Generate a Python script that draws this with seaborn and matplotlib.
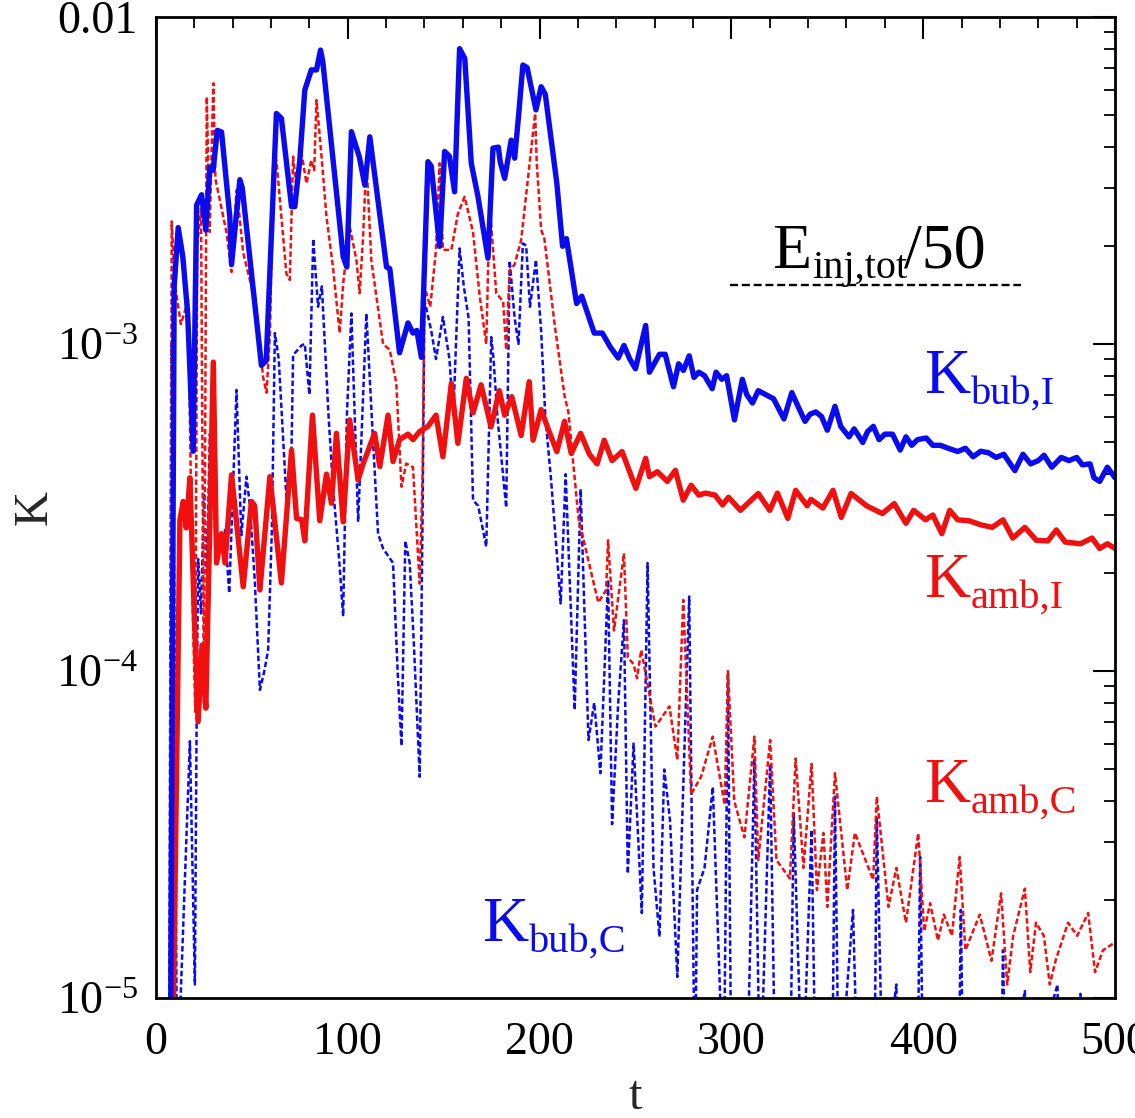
import numpy as np
import pandas as pd
import seaborn as sns
import matplotlib
matplotlib.use("Agg")
import matplotlib.pyplot as plt
from matplotlib.ticker import FixedLocator, FixedFormatter, MultipleLocator, LogLocator, NullFormatter

# ---------------- data ----------------
# K_bub,I : bubble kinetic energy, incompressible part (blue, solid)
t_bub_I = [7.5, 9.5, 11.6, 14.0, 16.5, 19.4, 21.2, 23.8, 26.0, 28.1, 29.8, 32.0, 34.2, 38.5, 39.4,
           43.75, 45.0, 55.0, 57.5, 62.8, 65.4, 70.7, 72.4, 75.0, 77.6, 81.0, 83.7, 85.8, 87.0,
           97.6, 99.5, 101.9, 106.0, 108.9, 111.5, 120.2, 121.9, 127.0, 131.4, 134.0, 136.0, 138.4,
           141.8, 143.5, 147.9, 150.5, 153.0, 155.7, 158.3, 161.0, 164.4, 167.9, 173.1, 175.7, 178.5,
           179.5, 181.8, 185.2, 187.0, 189.0, 191.3, 193.5, 198.1, 200.8, 203.0, 209.0, 212.0, 214.0,
           219.3, 222.0, 228.5, 232.7, 236.8, 241.0, 244.0, 247.0, 250.0, 255.3, 257.3, 262.5, 265.5,
           269.8, 272.5, 275.0, 278.0, 280.5, 283.0, 286.0, 290.0, 292.0, 295.0, 297.5, 301.6, 305.7,
           308.0, 311.0, 314.0, 318.0, 322.0, 327.4, 331.5, 335.0, 338.4, 341.0, 344.0, 347.0, 350.0,
           354.0, 357.0, 361.3, 364.0, 368.5, 371.0, 374.0, 377.0, 380.0, 384.0, 388.0, 391.0, 394.0,
           397.0, 401.6, 405.0, 409.0, 413.0, 418.0, 422.0, 426.0, 430.0, 434.0, 438.0, 442.0, 447.8,
           452.0, 456.0, 460.0, 463.0, 467.0, 472.0, 476.0, 480.0, 483.0, 487.0, 489.0, 492.0, 496.0,
           500.0]
k_bub_I = [5e-6, 1.5e-3, 2.27e-3, 1.85e-3, 1.25e-3, 4.7e-4, 2.66e-3, 2.86e-3, 2.23e-3, 3.47e-3, 3.4e-3,
           4.5e-3, 4.45e-3, 2.45e-3, 1.75e-3, 3.18e-3, 3.0e-3, 8.6e-4, 8.9e-4, 5.07e-3, 4.9e-3, 2.63e-3,
           2.63e-3, 3.65e-3, 5.98e-3, 6.89e-3, 6.89e-3, 7.92e-3, 7.3e-3, 1.85e-3, 1.72e-3, 4.46e-3,
           3.74e-3, 3.06e-3, 4.3e-3, 1.72e-3, 1.7e-3, 9.4e-4, 1.16e-3, 1.08e-3, 1.1e-3, 9.1e-4, 3.61e-3,
           3.5e-3, 1.99e-3, 3.88e-3, 3.75e-3, 2.92e-3, 8.0e-3, 7.47e-3, 3.57e-3, 2.82e-3, 1.83e-3,
           3.97e-3, 4.0e-3, 3.6e-3, 3.21e-3, 4.2e-3, 3.7e-3, 4.95e-3, 7.13e-3, 7.0e-3, 5.2e-3, 6.12e-3,
           5.8e-3, 3.1e-3, 1.99e-3, 2.1e-3, 1.33e-3, 1.4e-3, 1.08e-3, 1.08e-3, 9.8e-4, 9.06e-4, 9.9e-4,
           9.0e-4, 8.4e-4, 1.14e-3, 8.2e-4, 9.3e-4, 9.3e-4, 7.4e-4, 8.7e-4, 8.3e-4, 9.2e-4, 7.9e-4,
           8.2e-4, 8.0e-4, 7.3e-4, 8.2e-4, 7.8e-4, 8.0e-4, 5.86e-4, 7.8e-4, 7.0e-4, 6.6e-4, 7.2e-4,
           7.0e-4, 6.8e-4, 5.9e-4, 7.1e-4, 6.4e-4, 5.8e-4, 6.1e-4, 6.2e-4, 6.0e-4, 5.45e-4, 6.45e-4,
           5.6e-4, 5.2e-4, 5.5e-4, 5.0e-4, 5.4e-4, 5.6e-4, 5.1e-4, 5.3e-4, 5.3e-4, 4.74e-4, 5.2e-4,
           4.9e-4, 5.1e-4, 5.16e-4, 4.9e-4, 4.9e-4, 4.8e-4, 4.69e-4, 4.8e-4, 4.52e-4, 4.7e-4, 4.65e-4,
           4.5e-4, 4.6e-4, 4.1e-4, 4.6e-4, 4.3e-4, 4.4e-4, 4.57e-4, 4.2e-4, 4.5e-4, 4.4e-4, 4.5e-4,
           4.27e-4, 4.3e-4, 3.9e-4, 3.8e-4, 4.2e-4, 3.9e-4]

# K_amb,I : ambient kinetic energy, incompressible part (red, solid)
t_amb_I = [8.5, 12.5, 14.2, 15.8, 17.7, 20.0, 22.0, 24.0, 26.0, 29.9, 31.6, 34.2, 36.0, 39.4, 45.5,
           49.8, 51.5, 54.2, 59.4, 65.4, 70.7, 73.3, 76.0, 77.6, 81.6, 85.4, 88.9, 91.5, 94.1, 97.6,
           101.0, 105.4, 108.0, 114.0, 116.7, 121.0, 123.6, 127.0, 131.4, 134.0, 137.5, 141.8, 146.0,
           149.6, 154.0, 157.4, 161.8, 165.3, 169.5, 174.7, 179.0, 181.8, 185.5, 190.4, 194.6, 196.6,
           200.8, 204.7, 209.0, 213.0, 216.5, 221.4, 226.0, 230.0, 233.7, 237.8, 243.0, 250.2, 255.3,
           257.3, 261.4, 266.6, 270.8, 274.9, 279.0, 283.0, 286.5, 291.5, 295.4, 298.5, 304.7, 314.0,
           320.0, 324.0, 329.4, 333.5, 339.5, 341.5, 347.7, 353.0, 357.3, 362.4, 370.5, 378.7, 384.9,
           391.0, 395.0, 401.2, 405.0, 409.7, 413.8, 418.0, 424.0, 430.0, 436.0, 441.6, 446.7, 453.0,
           459.0, 465.0, 469.4, 474.0, 482.0, 488.0, 492.0, 496.0, 500.0]
k_amb_I = [5e-6, 2.9e-4, 3.3e-4, 2.74e-4, 3.9e-4, 1.5e-4, 7.0e-5, 1.2e-4, 7.7e-5, 8.8e-4, 2.14e-4,
           2.63e-4, 2.14e-4, 3.98e-4, 1.81e-4, 3.3e-4, 3.2e-4, 1.77e-4, 3.93e-4, 1.86e-4, 4.74e-4,
           2.93e-4, 2.9e-4, 2.5e-4, 6.06e-4, 2.88e-4, 4.0e-4, 3.26e-4, 5.33e-4, 2.86e-4, 5.86e-4,
           3.84e-4, 4.3e-4, 5.33e-4, 4.22e-4, 6.06e-4, 4.37e-4, 5.1e-4, 5.3e-4, 5.1e-4, 5.4e-4, 5.6e-4,
           6.06e-4, 4.52e-4, 7.58e-4, 4.97e-4, 7.85e-4, 6.16e-4, 7.5e-4, 5.58e-4, 7.2e-4, 6.06e-4,
           6.9e-4, 5.25e-4, 7.67e-4, 5.08e-4, 6.3e-4, 5.45e-4, 4.69e-4, 5.8e-4, 4.63e-4, 5.33e-4,
           4.6e-4, 4.3e-4, 5.08e-4, 4.4e-4, 4.69e-4, 3.62e-4, 4.47e-4, 3.93e-4, 4.07e-4, 3.8e-4,
           4.11e-4, 3.33e-4, 3.7e-4, 3.45e-4, 3.5e-4, 3.45e-4, 3.22e-4, 3.4e-4, 3.1e-4, 3.49e-4,
           3.1e-4, 3.5e-4, 2.93e-4, 3.57e-4, 3.2e-4, 3.35e-4, 3.15e-4, 3.57e-4, 2.95e-4, 3.49e-4,
           3.2e-4, 3.03e-4, 3.25e-4, 2.83e-4, 3.1e-4, 2.9e-4, 3.0e-4, 2.63e-4, 3.1e-4, 2.9e-4, 2.88e-4,
           2.8e-4, 2.75e-4, 2.9e-4, 2.55e-4, 2.75e-4, 2.51e-4, 2.5e-4, 2.7e-4, 2.48e-4, 2.45e-4,
           2.55e-4, 2.37e-4, 2.45e-4, 2.37e-4]

# K_amb,C : ambient kinetic energy, compressible part (red, dotted)
t_amb_C = [7.3, 8.2, 10.0, 13.0, 16.8, 19.2, 20.5, 21.5, 23.5, 25.0, 26.5, 28.0, 29.9, 31.0, 33.3,
           36.8, 39.4, 42.0, 43.75, 45.5, 49.8, 53.3, 55.9, 57.7, 59.5, 61.1, 62.8, 68.0, 69.8, 71.5,
           73.3, 75.9, 78.5, 81.0, 82.5, 83.7, 86.5, 88.9, 92.3, 95.8, 97.6, 101.0, 104.5, 106.2, 108.0,
           109.7, 112.3, 118.4, 121.9, 125.3, 128.0, 130.5, 134.0, 137.5, 139.0, 140.0, 143.0, 146.0,
           147.9, 149.6, 154.0, 157.4, 160.9, 165.3, 168.8, 172.2, 174.0, 177.4, 181.0, 182.6, 184.4,
           187.0, 190.4, 193.9, 197.7, 198.5, 200.8, 202.5, 208.0, 212.1, 213.1, 215.0, 218.0, 220.3,
           224.5, 230.6, 234.7, 235.7, 238.8, 244.0, 246.0, 249.0, 250.8, 253.0, 260.4, 267.7, 271.8,
           274.9, 279.0, 284.2, 290.3, 296.5, 298.2, 301.5, 306.8, 312.0, 314.0, 320.2, 323.5, 330.5,
           333.5, 337.6, 341.8, 344.6, 348.0, 350.0, 354.0, 360.4, 364.4, 373.9, 375.8, 381.9, 386.0,
           391.0, 397.4, 400.5, 403.6, 407.7, 410.8, 415.0, 419.0, 422.0, 425.0, 429.5, 435.6, 440.6,
           443.8, 446.9, 453.0, 455.8, 458.8, 462.9, 466.0, 469.0, 475.5, 480.3, 486.0, 489.6, 493.7,
           500.0]
k_amb_C = [5e-6, 2.37e-3, 1.5e-3, 1.15e-3, 1.36e-3, 1.5e-4, 7.5e-5, 2.0e-3, 2.6e-3, 8.0e-5, 5.7e-3,
           2.2e-3, 6.27e-3, 3.2e-3, 2.75e-3, 2.19e-3, 1.66e-3, 2.95e-3, 2.4e-3, 1.9e-3, 1.5e-3, 1.1e-3,
           7.9e-4, 7.1e-4, 1.1e-3, 3.57e-3, 3.65e-3, 1.64e-3, 1.57e-3, 3.74e-3, 3.0e-3, 3.83e-3, 3.1e-3,
           3.65e-3, 3.4e-3, 5.57e-3, 3.65e-3, 2.45e-3, 1.72e-3, 1.08e-3, 1.53e-3, 2.29e-3, 1.81e-3,
           1.43e-3, 2.13e-3, 3.65e-3, 1.8e-3, 1.0e-3, 9.6e-4, 7.6e-4, 3.66e-4, 4.31e-4, 4.2e-4, 1.85e-4,
           4.0e-4, 1.5e-3, 1.3e-3, 1.94e-3, 3.57e-3, 1.94e-3, 1.94e-3, 2.5e-3, 2.82e-3, 2.2e-3, 1.4e-3,
           1.0e-3, 2.69e-3, 1.43e-3, 1.35e-3, 9.6e-4, 1.68e-3, 1.75e-3, 2.08e-3, 3.18e-3, 5.07e-3,
           3.6e-3, 2.24e-3, 2.1e-3, 1.13e-3, 7.6e-4, 6.9e-4, 6.2e-4, 4.06e-4, 2.93e-4, 2.3e-4, 1.62e-4,
           1.77e-4, 2.51e-4, 1.33e-4, 2.29e-4, 1.1e-4, 1.05e-4, 9.5e-5, 1.16e-4, 6.76e-5, 7.8e-5,
           5.35e-5, 1.65e-4, 4.2e-5, 4.75e-5, 6.3e-5, 3.9e-5, 1.0e-4, 4.0e-5, 3.1e-5, 6.3e-5, 2.64e-5,
           6.15e-5, 2.64e-5, 2.32e-5, 5.4e-5, 2.5e-5, 5.2e-5, 2.14e-5, 3.2e-5, 1.9e-5, 4.87e-5, 2.14e-5,
           3.2e-5, 2.3e-5, 4.13e-5, 1.9e-5, 2.5e-5, 1.7e-5, 3.19e-5, 1.6e-5, 1.95e-5, 1.5e-5, 1.8e-5,
           1.55e-5, 2.7e-5, 1.4e-5, 1.55e-5, 1.8e-5, 1.3e-5, 2.09e-5, 1.1e-5, 1.55e-5, 2.16e-5, 1.2e-5,
           1.7e-5, 1.55e-5, 1.1e-5, 1.3e-5, 1.7e-5, 1.55e-5, 1.82e-5, 1.2e-5, 1.4e-5, 1.48e-5]

# K_bub,C : bubble kinetic energy, compressible part (blue, dotted)
t_bub_C = [6.8, 8.0, 9.5, 11.0, 17.7, 20.3, 21.2, 22.0, 23.5, 25.0, 26.5, 28.1, 29.9, 31.6, 33.5,
           36.0, 38.2, 42.0, 44.5, 47.2, 49.0, 51.5, 54.2, 56.5, 58.5, 60.5, 62.0, 64.0, 68.0, 70.7,
           71.5, 75.9, 77.6, 80.0, 82.0, 84.5, 86.5, 90.0, 92.3, 95.5, 97.6, 99.5, 101.9, 105.4, 109.7,
           113.0, 115.8, 118.4, 123.6, 126.0, 128.0, 130.0, 132.3, 134.5, 137.5, 139.0, 140.0, 143.5,
           146.0, 149.6, 153.0, 155.0, 158.3, 160.5, 163.0, 165.3, 168.0, 172.2, 174.8, 176.0, 178.0,
           182.6, 184.4, 187.0, 189.0, 191.3, 193.0, 195.0, 198.1, 200.8, 203.0, 206.0, 211.0, 213.6,
           218.3, 221.4, 225.5, 228.5, 231.7, 235.7, 237.8, 241.0, 244.0, 246.0, 249.0, 253.3, 256.3,
           259.4, 262.5, 265.0, 268.0, 271.8, 278.0, 281.0, 282.1, 286.0, 290.3, 296.0, 298.2, 300.0,
           308.0, 312.0, 315.0, 320.2, 323.0, 330.5, 332.5, 337.0, 341.8, 344.0, 352.5, 354.0, 356.0,
           363.4, 366.0, 374.5, 375.8, 379.0, 386.0, 387.0, 397.0, 398.4, 400.0, 418.5, 419.6, 421.0,
           440.5, 441.6, 443.0, 453.0, 454.0, 470.0, 471.0, 482.0, 483.0, 500.0]
k_bub_C = [5e-6, 1.0e-3, 2.0e-4, 5e-6, 6.1e-5, 1.1e-5, 7.0e-5, 2.2e-4, 1.5e-4, 3.5e-4, 2.0e-4, 5.3e-4,
           3.5e-4, 2.2e-4, 2.6e-4, 2.7e-4, 1.73e-4, 7.24e-4, 2.6e-4, 3.93e-4, 3.2e-4, 1.9e-4, 8.75e-5,
           1.0e-4, 1.16e-4, 2.8e-4, 1.08e-3, 9.0e-4, 3.4e-4, 4.85e-4, 9.25e-4, 9.9e-4, 1.0e-3, 7.0e-4,
           2.1e-3, 1.3e-3, 1.5e-3, 6.0e-4, 3.66e-4, 2.2e-4, 1.47e-4, 6.0e-4, 1.24e-3, 2.86e-4, 1.24e-3,
           5.3e-4, 2.63e-4, 2.37e-4, 2.14e-4, 1.0e-4, 5.9e-5, 2.5e-4, 2.14e-4, 1.2e-4, 4.75e-5, 3.0e-4,
           1.36e-3, 1.1e-3, 9.0e-4, 1.21e-3, 9.0e-4, 6.0e-4, 1.96e-3, 1.5e-3, 1.2e-3, 3.33e-4, 3.2e-4,
           2.4e-4, 1.05e-3, 9.0e-4, 6.0e-4, 3.16e-4, 1.8e-3, 1.2e-3, 1.0e-3, 2.03e-3, 2.0e-3, 1.3e-3,
           1.81e-3, 1.1e-3, 6.0e-4, 3.84e-4, 1.61e-4, 4.0e-4, 7.6e-5, 3.6e-4, 6.15e-5, 8.0e-5, 4.87e-5,
           1.9e-4, 3.4e-5, 8.0e-5, 1.43e-4, 2.4e-5, 6.0e-5, 1.82e-5, 2.14e-4, 2.5e-5, 1.54e-5, 5.0e-5,
           3.5e-5, 1.16e-5, 1.69e-4, 5e-6, 2.14e-5, 2.5e-5, 4.42e-5, 5e-6, 9.8e-5, 5e-6, 5e-6, 5.35e-5,
           5e-6, 5.2e-5, 5e-6, 5e-6, 3.67e-5, 5e-6, 3.27e-5, 5e-6, 5e-6, 4.13e-5, 5e-6, 1.86e-5, 5e-6,
           5e-6, 3.58e-5, 5e-6, 1.1e-5, 5e-6, 5e-6, 2.7e-5, 5e-6, 5e-6, 1.86e-5, 5e-6, 5e-6, 1.4e-5,
           5e-6, 1.05e-5, 5e-6, 1.1e-5, 5e-6, 1.03e-5, 5e-6, 5e-6]

# reference level E_inj,tot / 50
e_ref_level = 1.51e-3
e_ref_span = [299.5, 451.0]

x_ticks = [0, 100, 200, 300, 400, 500]
y_ticks = [1e-5, 1e-4, 1e-3, 1e-2]
y_tick_labels = [r"$10^{-5}$", r"$10^{-4}$", r"$10^{-3}$", "0.01"]

# ---------------- style ----------------
sns.set_theme(style="white")
plt.rcParams["font.family"] = ["Liberation Serif", "DejaVu Serif"]
plt.rcParams["mathtext.fontset"] = "custom"
plt.rcParams["mathtext.rm"] = "Liberation Serif"
plt.rcParams["mathtext.it"] = "Liberation Serif:italic"
plt.rcParams["mathtext.bf"] = "Liberation Serif:bold"

BLUE = "#0b0bf0"
RED = "#f01010"
DPI = 100

fig = plt.figure(figsize=(11.35, 11.18), dpi=DPI)
ax = fig.add_axes([0.1374, 0.1073, 0.8450, 0.8775])
ax.set_facecolor("white")
fig.patch.set_facecolor("white")

dot = (0, (2.2, 1.1))
sns.lineplot(x=t_bub_C, y=k_bub_C, ax=ax, color=BLUE, linewidth=1.8, linestyle=dot,
             estimator=None, sort=False)
sns.lineplot(x=t_amb_C, y=k_amb_C, ax=ax, color=RED, linewidth=1.8, linestyle=dot,
             estimator=None, sort=False)
sns.lineplot(x=t_amb_I, y=k_amb_I, ax=ax, color=RED, linewidth=3.9,
             estimator=None, sort=False)
sns.lineplot(x=t_bub_I, y=k_bub_I, ax=ax, color=BLUE, linewidth=3.9,
             estimator=None, sort=False)

ax.hlines(e_ref_level, e_ref_span[0], e_ref_span[1], colors="black", linewidth=1.7,
          linestyles=(0, (3.4, 1.6)))

ax.set_yscale("log")
ax.set_xlim(0, 500)
ax.set_ylim(1e-5, 1e-2)

ax.xaxis.set_major_locator(FixedLocator(x_ticks))
ax.xaxis.set_minor_locator(MultipleLocator(20))
ax.yaxis.set_major_locator(FixedLocator(y_ticks))
ax.yaxis.set_major_formatter(FixedFormatter(y_tick_labels))
ax.yaxis.set_minor_locator(LogLocator(base=10, subs=np.arange(2, 10)))
ax.yaxis.set_minor_formatter(NullFormatter())

ax.tick_params(which="both", direction="in", top=True, right=True, colors="black",
               labelsize=33)
ax.tick_params(which="major", length=16, width=1.5)
ax.tick_params(which="minor", length=8, width=1.3)
ax.tick_params(axis="x", which="major", pad=17)
ax.tick_params(axis="y", which="major", pad=13)

for s in ax.spines.values():
    s.set_visible(True)
    s.set_color("black")
    s.set_linewidth(2.0)

ax.set_xlabel("t", fontsize=35)
ax.set_ylabel("K", fontsize=35)
ax.xaxis.set_label_coords(0.5, -0.101)
ax.yaxis.set_label_coords(-0.127, 0.5)
ax.xaxis.label.set_va("center")
ax.yaxis.label.set_va("center")

# curve labels: large letter with a smaller, lowered upright subscript
MAIN_FS = 46
SUB_FS = 29
SUB_DROP = 7.5  # points
renderer = fig.canvas.get_renderer()


def label(x, y, main, sub, color, tail=None):
    t_main = ax.text(x, y, main, color=color, fontsize=MAIN_FS, ha="left", va="baseline")
    w_main = t_main.get_window_extent(renderer).width * 72.0 / DPI
    t_sub = ax.annotate(sub, (x, y), xytext=(w_main + 0.5, -SUB_DROP),
                        textcoords="offset points", color=color, fontsize=SUB_FS,
                        ha="left", va="baseline")
    if tail is not None:
        w_sub = t_sub.get_window_extent(renderer).width * 72.0 / DPI
        ax.annotate(tail, (x, y), xytext=(w_main + w_sub - 2.0, 0),
                    textcoords="offset points", color=color, fontsize=MAIN_FS,
                    ha="left", va="baseline")


label(400.5, 7.08e-4, "K", "bub,I", BLUE)
label(400.5, 1.68e-4, "K", "amb,I", RED)
label(400.5, 3.98e-5, "K", "amb,C", RED)
label(170.3, 1.49e-5, "K", "bub,C", BLUE)
label(321.4, 1.71e-3, "E", "inj,tot", "black", tail="/50")

fig.savefig("out.png", dpi=DPI, facecolor="white")
